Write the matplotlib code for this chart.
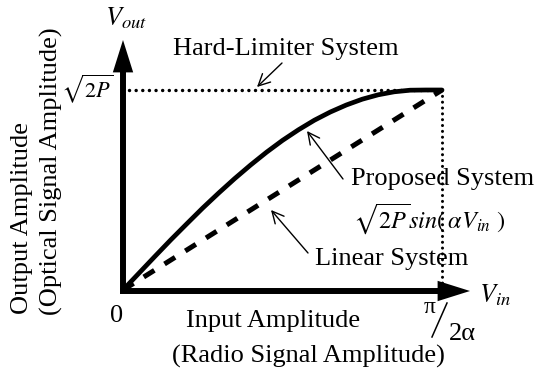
import matplotlib
matplotlib.use("Agg")
import matplotlib.pyplot as plt

plt.rcParams['font.family'] = ['Liberation Serif', 'DejaVu Serif']
plt.rcParams['mathtext.fontset'] = 'stix'

# ---- data (normalised: x in units of pi/(2 alpha), y in units of sqrt(2P)) ----
v_in = [0.0, 0.05, 0.10, 0.15, 0.20, 0.25, 0.30, 0.35, 0.40, 0.45, 0.50,
        0.55, 0.60, 0.65, 0.70, 0.75, 0.80, 0.85, 0.90, 0.95, 1.00]
proposed = [0.0, 0.084, 0.168, 0.251, 0.331, 0.410, 0.485, 0.557, 0.625, 0.689,
            0.748, 0.801, 0.849, 0.890, 0.925, 0.954, 0.976, 0.991, 0.999,
            1.0, 1.0]
linear_x = [0.0, 1.0]
linear_y = [0.0, 1.0]
hard_x = [0.02, 1.0]
hard_y = [1.0, 1.0]
vline_x = [1.0, 1.0]
vline_y = [1.0, 0.0]

# ---- layout helpers (pixel -> data) ----
W, H = 539, 373
X0, SX, Y0, SY = 123, 319, 290, 200


def P(xp, yp):
    return ((xp - X0) / SX, (Y0 - yp) / SY)


fig = plt.figure(figsize=(W / 100, H / 100), dpi=100)
ax = fig.add_axes([0, 0, 1, 1])
ax.set_xlim(-X0 / SX, (W - X0) / SX)
ax.set_ylim((Y0 - H) / SY, Y0 / SY)
ax.axis('off')

FS = 19

# curves
ax.plot(hard_x, hard_y, color='black', lw=2.5, linestyle=(0, (0.01, 1.9)),
        solid_capstyle='round', dash_capstyle='round')
ax.plot(vline_x, vline_y, color='black', lw=2.2, linestyle=(0, (0.01, 1.9)),
        dash_capstyle='round')
ax.plot(linear_x, linear_y, color='black', lw=3.6, linestyle=(0, (2.5, 2.4)),
        dash_capstyle='butt')
ax.plot(v_in, proposed, color='black', lw=3.4, solid_capstyle='round',
        solid_joinstyle='round')

# axes arrows
arrow_kw = dict(arrowstyle='-|>,head_length=0.7,head_width=0.22', lw=4.3,
                color='black', shrinkA=0, shrinkB=0, mutation_scale=20,
                joinstyle='miter', capstyle='butt')
ax.annotate('', xy=P(123, 40), xytext=P(123, 292), arrowprops=arrow_kw)
ax.annotate('', xy=P(470, 291), xytext=P(120, 291), arrowprops=arrow_kw)

# annotation arrows
thin = dict(arrowstyle='->,head_length=0.6,head_width=0.3', lw=1.0,
            color='black', shrinkA=0, shrinkB=0, mutation_scale=14)
ax.annotate('', xy=P(257, 87), xytext=P(282, 63), arrowprops=thin)
ax.annotate('', xy=P(307, 131), xytext=P(343, 179), arrowprops=thin)
ax.annotate('', xy=P(271, 210), xytext=P(308, 253), arrowprops=thin)

# texts
ax.text(*P(105, 25), r'$V_{out}$', fontsize=FS, ha='left', va='baseline')
ax.text(*P(114, 97), r'$\sqrt{2P}$', fontsize=16, ha='right', va='baseline')
ax.text(*P(173, 55), 'Hard-Limiter System', fontsize=FS, ha='left', va='baseline')
ax.text(*P(351, 185), 'Proposed System', fontsize=FS, ha='left', va='baseline')
ax.text(*P(353, 228), r'$\sqrt{2P}sin(\,\alpha V_{in}\ )$', fontsize=17.5,
        ha='left', va='baseline')
ax.text(*P(315, 265), 'Linear System', fontsize=FS, ha='left', va='baseline')
ax.text(*P(117, 322), '0', fontsize=FS, ha='center', va='baseline')
ax.text(*P(186, 327), 'Input Amplitude', fontsize=FS, ha='left', va='baseline')
ax.text(*P(172, 363), '(Radio Signal Amplitude)', fontsize=FS, ha='left',
        va='baseline')
ax.text(*P(479, 302), r'$V_{in}$', fontsize=FS, ha='left', va='baseline')

# pi / 2 alpha
ax.text(*P(424, 313), 'π', fontsize=17, ha='left', va='baseline')
ax.plot(*zip(P(432, 337), P(447, 303)), color='black', lw=1.1)
ax.text(*P(449, 340), '2α', fontsize=FS, ha='left', va='baseline')

# rotated y labels
ax.text(*P(28, 314), 'Output Amplitude', fontsize=FS, rotation=90,
        rotation_mode='anchor', ha='left', va='baseline')
ax.text(*P(58, 315), '(Optical Signal Amplitude)', fontsize=FS, rotation=90,
        rotation_mode='anchor', ha='left', va='baseline')

fig.savefig('out.png', dpi=100)
